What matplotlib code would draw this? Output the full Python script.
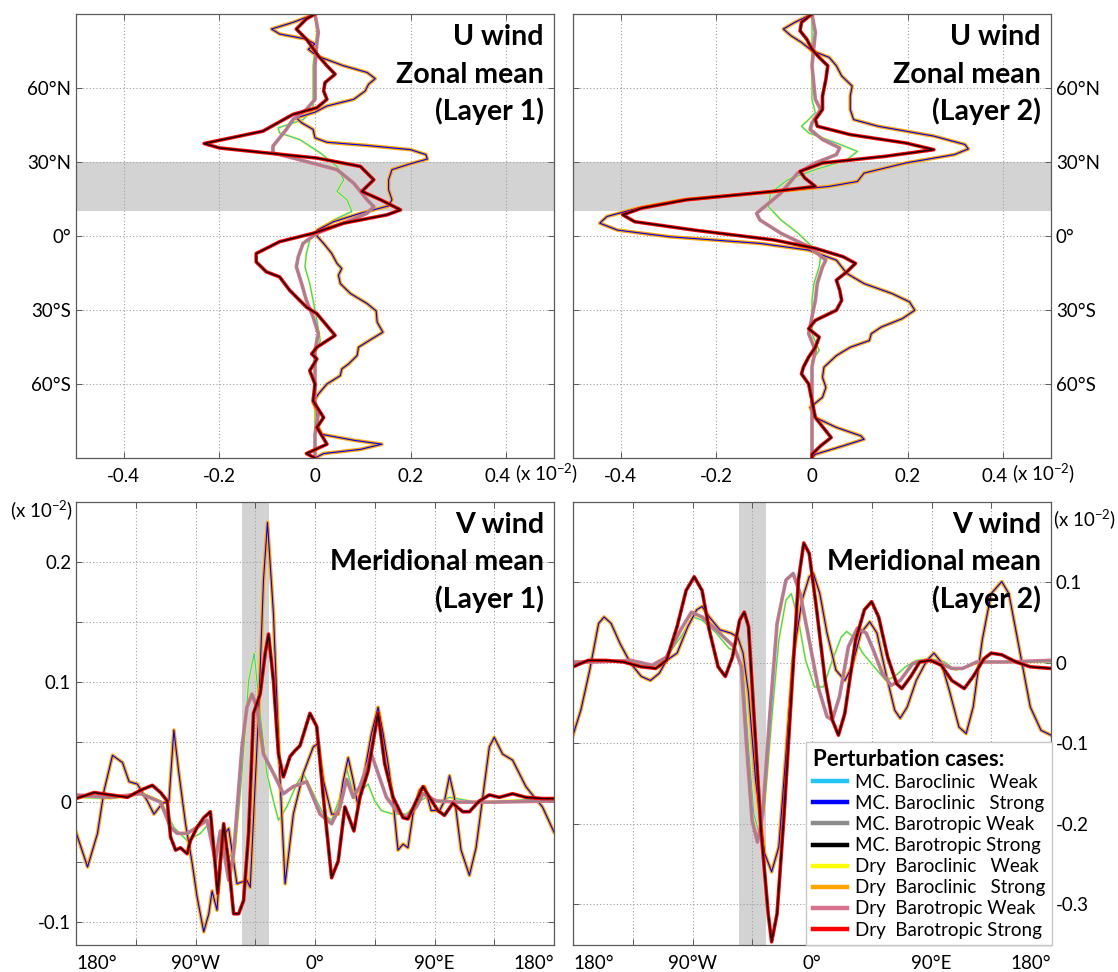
import numpy as np
import matplotlib.pyplot as plt
import matplotlib.transforms as mtransforms

plt.rcParams['font.family'] = ['Lato', 'DejaVu Sans']
plt.rcParams['mathtext.fontset'] = 'custom'
plt.rcParams['mathtext.rm'] = 'Lato'

# ---------------- data (units of 1e-2) ----------------
# Upper panels: (latitude, zonal-mean U perturbation)
u1_bc_strong = [(90, 0), (86.6, -0.046), (83.9, -0.091), (81.9, -0.074), (79.8, -0.018), (77.8, 0.0),
                (75.7, -0.014), (73.0, 0.004), (69.0, 0.060), (66.3, 0.109), (63.8, 0.126), (61.5, 0.112),
                (58.8, 0.105), (55.4, 0.081), (52.7, 0.025), (50.2, 0), (47.9, -0.039), (45.9, -0.028),
                (43.2, -0.004), (39.8, 0), (38.0, 0.025), (36.7, 0.109), (35.0, 0.200), (33.0, 0.232),
                (31.2, 0.235), (29.3, 0.200), (26.9, 0.161), (22.8, 0.154), (18.7, 0.154), (14.7, 0.161),
                (12.2, 0.154), (9.2, 0.095), (5.8, 0.039), (2.4, 0.005), (0, 0.004), (-3.0, 0.018),
                (-7.1, 0.035), (-11.1, 0.046), (-13.2, 0.056), (-15.9, 0.049), (-19.3, 0.053), (-23.3, 0.074),
                (-27.4, 0.109), (-30.4, 0.128), (-34.9, 0.130), (-39.0, 0.142), (-41.7, 0.119), (-45.1, 0.091),
                (-48.5, 0.088), (-51.9, 0.070), (-53.9, 0.056), (-56.6, 0.053), (-60.0, 0.025), (-64.1, 0.007),
                (-67.5, -0.004), (-70.9, 0.004), (-76.3, 0.004), (-80.4, 0.014), (-82.8, 0.081), (-84.4, 0.140),
                (-86.5, 0.095), (-88.2, 0.018), (-90, 0)]
u1_bt_strong = [(90, 0), (88.0, -0.018), (83.9, -0.039), (79.8, -0.018), (73.0, 0.007), (69.0, 0.025),
                (65.6, 0.042), (62.2, 0.021), (58.8, 0.018), (55.4, 0.025), (52.0, 0.004), (49.3, -0.046),
                (42.5, -0.109), (40.5, -0.158), (37.5, -0.232), (35.7, -0.200), (33.7, -0.102), (31.6, 0.004),
                (28.2, 0.095), (22.8, 0.123), (18.1, 0.098), (14.7, 0.137), (10.6, 0.179), (8.6, 0.151),
                (5.2, 0.060), (1.1, -0.004), (-2.3, -0.074), (-7.1, -0.123), (-10.5, -0.123), (-14.5, -0.102),
                (-16.6, -0.074), (-22.0, -0.053), (-28.8, -0.018), (-31.5, 0.004), (-40.3, 0.042),
                (-45.1, 0.004), (-47.8, -0.007), (-49.8, 0.004), (-54.6, -0.011), (-60, 0), (-66.8, -0.004),
                (-73.6, 0.018), (-77.6, 0.004), (-84.4, 0.025), (-88.2, -0.018), (-90, 0)]
u1_bc_weak = [(90, 0), (82.5, 0.004), (69, -0.004), (51.3, -0.004), (47.2, -0.025), (43.8, -0.077),
              (41.8, -0.074), (39.1, -0.032), (33.7, 0.011), (28.2, 0.046), (22.8, 0.060), (18.1, 0.046),
              (14.7, 0.067), (9.9, 0.077), (6.5, 0.039), (2.4, 0.004), (-1.6, -0.011), (-7.1, -0.018),
              (-12.5, -0.021), (-19.3, -0.011), (-26.1, -0.004), (-34.2, 0.004), (-42.4, 0.011),
              (-47.8, 0), (-60, 0), (-90, 0)]
u1_bt_weak = [(90, 0), (82.5, 0.007), (78.5, 0.004), (69, 0), (55.4, 0), (51.3, -0.018), (47.2, -0.046),
              (43.2, -0.060), (36.4, -0.088), (33.7, -0.088), (30.9, -0.032), (26.9, 0.046), (21.4, 0.081),
              (14.7, 0.109), (11.9, 0.123), (9.2, 0.109), (5.8, 0.067), (1.1, 0.004), (-3.0, -0.025),
              (-8.4, -0.035), (-12.5, -0.039), (-19.3, -0.028), (-26.1, -0.018), (-32.8, -0.004),
              (-39.6, 0.007), (-46.4, 0), (-67.5, 0), (-72.2, 0.007), (-80.4, 0), (-90, 0)]

u2_bc_strong = [(90, 0), (86.6, -0.036), (83.9, -0.060), (81.2, -0.044), (78.5, -0.022), (75.1, 0),
                (72.4, 0.036), (69.0, 0.051), (64.9, 0.062), (60.8, 0.084), (56.7, 0.080), (51.3, 0.080),
                (47.2, 0.087), (44.5, 0.138), (40.5, 0.255), (37.1, 0.320), (35.3, 0.327), (33.0, 0.298),
                (29.6, 0.196), (25.5, 0.109), (22.1, 0.095), (20.1, 0.036), (18.1, -0.073), (14.7, -0.269),
                (11.3, -0.364), (7.9, -0.429), (5.2, -0.444), (2.4, -0.407), (-0.3, -0.298), (-3.0, -0.109),
                (-5.7, -0.007), (-9.8, 0.051), (-15.2, 0.073), (-19.3, 0.109), (-23.3, 0.167), (-26.7, 0.204),
                (-30.1, 0.215), (-33.5, 0.189), (-36.9, 0.145), (-39.6, 0.124), (-42.4, 0.120), (-45.1, 0.080),
                (-48.5, 0.051), (-53.2, 0.025), (-57.3, 0.022), (-61.4, 0.029), (-65.4, 0.022), (-69.5, -0.004),
                (-73.6, 0.007), (-77.6, 0.051), (-81.0, 0.102), (-82.4, 0.109), (-85.1, 0.065), (-88.5, 0.007),
                (-90, 0)]
u2_bt_strong = [(90, 0), (86.6, -0.022), (83.2, -0.025), (79.8, -0.011), (75.7, 0), (72.4, 0.015),
                (69.0, 0.033), (63.5, 0.029), (56.7, 0.022), (51.3, 0.022), (47.2, 0.007), (44.5, 0.011),
                (41.1, 0.080), (37.7, 0.196), (35.0, 0.255), (32.3, 0.153), (29.6, 0.022), (26.2, -0.025),
                (23.5, -0.015), (20.1, 0.007), (18.1, -0.080), (14.7, -0.262), (11.3, -0.356), (8.6, -0.396),
                (5.8, -0.371), (2.4, -0.247), (-1.6, -0.080), (-5.0, 0.007), (-8.4, 0.065), (-11.1, 0.091),
                (-14.5, 0.073), (-17.9, 0.051), (-22.0, 0.058), (-26.1, 0.062), (-30.1, 0.051), (-34.2, 0.007),
                (-37.6, -0.007), (-41.0, 0.015), (-45.1, 0.007), (-49.1, -0.007), (-53.2, -0.018),
                (-55.9, -0.022), (-60.0, -0.007), (-66.8, 0), (-73.6, 0.007), (-79.0, 0.029), (-81.7, 0.040),
                (-85.1, 0.018), (-88.5, 0), (-90, 0)]
u2_bc_weak = [(90, 0), (69, 0), (55.4, 0), (50, 0.007), (47.2, -0.007), (44.5, -0.022), (41.8, -0.007),
              (37.7, 0.051), (34.3, 0.095), (30.9, 0.073), (26.9, 0.007), (22.8, -0.051), (17.4, -0.087),
              (11.9, -0.091), (6.5, -0.065), (1.1, -0.029), (-4.3, 0), (-8.4, 0.018), (-12.5, 0.015),
              (-19.3, 0.004), (-26.1, 0), (-39.6, 0), (-46.4, 0.015), (-50.5, 0), (-90, 0)]
u2_bt_weak = [(90, 0), (82.5, 0.007), (69, 0), (55.4, 0.007), (51.3, 0.018), (45.9, 0), (43.2, -0.004),
              (39.1, 0.022), (35.7, 0.058), (33.0, 0.051), (29.6, 0.007), (25.5, -0.030), (17.4, -0.065),
              (9.2, -0.116), (6.5, -0.109), (1.1, -0.065), (-4.3, -0.007), (-9.8, 0.029), (-12.5, 0.022),
              (-19.3, 0.011), (-26.1, 0.007), (-32.8, 0), (-39.6, -0.007), (-46.4, 0.007), (-53, 0), (-90, 0)]

# Lower panels: (longitude, meridional-mean V perturbation)
v1_bc_strong = [(-180, -0.025), (-171.3, -0.054), (-163.8, -0.026), (-158.8, 0.010), (-152.5, 0.039),
                (-145, 0.033), (-140, 0.017), (-133.8, 0.015), (-126.3, 0.001), (-121.3, -0.010), (-115, -0.001),
                (-110, 0.001), (-106.3, 0.060), (-102.5, 0.024), (-97.5, -0.018), (-92.5, -0.051),
                (-88.8, -0.079), (-83.8, -0.108), (-80, -0.093), (-77.5, -0.074), (-73.8, -0.090), (-70, -0.029),
                (-65, -0.022), (-58.8, -0.068), (-51.3, -0.065), (-48.8, -0.071), (-42.5, 0.074), (-38.8, 0.185),
                (-35.8, 0.233), (-31.3, 0.157), (-26.3, 0.018), (-22.5, -0.068), (-16.3, -0.010), (-8.8, 0.024),
                (-1.3, 0.046), (2.5, 0.049), (6.3, 0.018), (12.5, -0.010), (17.5, -0.010), (21.3, 0.018),
                (25, 0.037), (28.8, 0.018), (32.5, -0.004), (37.5, 0.026), (42.5, 0.057), (47.5, 0.079),
                (51.3, 0.057), (55, 0.032), (58.8, 0.001), (62.5, -0.040), (66.3, -0.035), (70, -0.038),
                (73.8, -0.010), (78.8, 0.010), (82.5, 0.013), (87.5, -0.007), (93.8, -0.007), (97.5, 0.001),
                (101.3, 0.022), (105, 0.004), (110, -0.040), (116.3, -0.061), (121.3, -0.038), (126.3, 0.004),
                (131.3, 0.046), (135, 0.054), (141.3, 0.040), (148.8, 0.035), (153.8, 0.024), (158.8, 0.013),
                (163.8, 0.006), (171.3, -0.004), (180, -0.025)]
v1_bt_strong = [(-180, 0.003), (-166.3, 0.008), (-153.8, 0.006), (-141.3, 0.004), (-131.3, 0.010),
                (-122.5, 0.014), (-116.3, 0.008), (-111.3, 0.001), (-108.8, -0.029), (-105, -0.040),
                (-101.3, -0.038), (-96.3, -0.043), (-93.8, -0.032), (-88.8, -0.021), (-83.8, -0.013),
                (-78.8, -0.008), (-76.3, -0.038), (-73.3, -0.076), (-68.8, -0.018), (-65, -0.051),
                (-61.3, -0.093), (-57.5, -0.093), (-53.8, -0.082), (-50, -0.026), (-46.3, 0.074), (-41.3, 0.090),
                (-37.5, 0.124), (-35, 0.140), (-31.3, 0.101), (-27.5, 0.040), (-23.8, 0.021), (-18.8, 0.038),
                (-15, 0.043), (-11.3, 0.047), (-3.8, 0.074), (1.3, 0.063), (6.3, 0.004), (12.5, -0.063),
                (17.5, -0.049), (22.5, -0.004), (26.3, -0.015), (29.3, -0.024), (33.8, 0.004), (40, 0.026),
                (47.5, 0.074), (52.5, 0.032), (58.8, 0.004), (66.3, -0.013), (70, -0.014), (76.3, 0.001),
                (81.3, 0.013), (86.3, 0.004), (92.5, -0.007), (97.5, -0.011), (103.8, -0.001), (111.3, -0.008),
                (116.3, -0.008), (123.8, 0.001), (131.3, 0.006), (138.8, 0.004), (148.8, 0.007), (158.8, 0.004),
                (171.3, 0.003), (180, 0.003)]
v1_bc_weak = [(-180, 0.004), (-153.8, 0.003), (-128.8, 0.007), (-116.3, 0.001), (-106.3, -0.021),
              (-96.3, -0.032), (-86.3, -0.026), (-80, -0.018), (-75, -0.043), (-71.3, -0.026), (-66.3, -0.049),
              (-60, -0.038), (-55, 0.024), (-50, 0.101), (-45.8, 0.124), (-41.3, 0.074), (-36.3, 0.024),
              (-31.3, 0.001), (-27.5, -0.015), (-21.3, -0.004), (-13.8, 0.015), (-8.8, 0.024), (-1.3, 0.007),
              (6.3, -0.010), (12.5, -0.015), (18.8, 0.004), (23.8, 0.028), (28.8, 0.007), (35, 0.010),
              (40, 0.015), (45, 0.001), (50, -0.007), (58.8, -0.010), (68.8, -0.010), (78.8, 0.001),
              (83.8, 0.004), (93.8, 0.0), (101.3, 0.004), (121.3, 0.0), (180, 0.003)]
v1_bt_weak = [(-180, 0.006), (-153.8, 0.004), (-131.3, 0.007), (-116.3, 0.0), (-108.8, -0.021),
              (-103.8, -0.026), (-96.3, -0.026), (-88.8, -0.021), (-81.3, -0.015), (-75, -0.049),
              (-71.3, -0.024), (-65, -0.065), (-61.3, -0.043), (-55, 0.046), (-51.3, 0.079), (-47.5, 0.090),
              (-43.8, 0.079), (-38.8, 0.040), (-31.3, 0.024), (-23.8, 0.007), (-16.3, 0.013), (-6.3, 0.017),
              (3.8, -0.010), (12.5, -0.018), (18.8, -0.004), (23.8, 0.019), (28.8, 0.004), (33.8, 0.013),
              (42.5, 0.040), (47.5, 0.024), (53.8, 0.004), (61.3, -0.007), (68.8, -0.013), (76.3, -0.004),
              (81.3, 0.007), (91.3, 0.001), (108.8, 0.0), (135, 0.0), (180, 0.001)]

v2_bc_strong = [(-180, -0.090), (-174.1, -0.059), (-167.4, -0.009), (-160.7, 0.049), (-156.6, 0.057),
                (-151.3, 0.049), (-144.6, 0.024), (-136.5, -0.001), (-128.5, -0.017), (-121.7, -0.022),
                (-115, -0.013), (-109.6, 0.003), (-101.6, 0.012), (-93.5, 0.045), (-86.8, 0.066), (-82.8, 0.070),
                (-77.4, 0.057), (-69.4, 0.041), (-61.3, 0.037), (-55.9, 0.032), (-51.9, 0.012), (-47.8, -0.038),
                (-42.5, -0.146), (-35.7, -0.237), (-30.4, -0.260), (-25, -0.229), (-19.6, -0.113), (-14.2, 0.007),
                (-7.5, 0.078), (-2.1, 0.107), (1.1, 0.111), (5.9, 0.086), (11.3, 0.037), (18, -0.009),
                (24.7, -0.022), (30.1, -0.005), (36.8, 0.037), (43.5, 0.051), (48.9, 0.037), (55.6, -0.013),
                (62.3, -0.059), (66.4, -0.069), (71.7, -0.055), (78.5, -0.022), (86.5, 0.003), (91.9, 0.012),
                (97.3, 0.001), (104, -0.038), (110.7, -0.080), (116.1, -0.088), (121.4, -0.055), (128.2, 0.028),
                (134.9, 0.086), (142.9, 0.101), (148.3, 0.086), (156.3, 0.016), (164.4, -0.055), (172.5, -0.084),
                (180, -0.090)]
v2_bt_strong = [(-180, -0.005), (-168.7, 0.003), (-155.3, 0.003), (-141.9, 0.001), (-128.5, -0.005),
                (-117.7, -0.007), (-109.6, 0.003), (-101.6, 0.045), (-94.8, 0.090), (-88.7, 0.107),
                (-82.8, 0.090), (-77.4, 0.041), (-70.7, -0.005), (-65.3, -0.017), (-59.9, 0.007), (-54.5, 0.053),
                (-51, 0.063), (-47.8, 0.045), (-43.8, -0.063), (-38.4, -0.208), (-33, -0.312), (-30.4, -0.347),
                (-26.3, -0.312), (-21, -0.188), (-15.6, -0.042), (-10.2, 0.103), (-6.2, 0.149), (-2.1, 0.136),
                (3.2, 0.070), (9.9, -0.022), (15.3, -0.071), (19.9, -0.090), (24.7, -0.063), (32.8, 0.028),
                (39.5, 0.066), (44.9, 0.076), (50.2, 0.057), (57, 0.007), (63.7, -0.026), (67.7, -0.032),
                (74.4, -0.017), (81.1, 0.001), (89.2, 0.003), (97.3, -0.003), (105.3, -0.022), (114.7, -0.032),
                (121.4, -0.017), (129.5, 0.005), (134.9, 0.012), (142.9, 0.010), (153.7, 0.001), (164.4, -0.005),
                (180, -0.007)]
v2_bc_weak = [(-180, 0.001), (-163.4, 0.003), (-144.6, 0.003), (-128.5, -0.003), (-117.7, -0.003),
              (-109.6, 0.007), (-98.9, 0.032), (-89.5, 0.057), (-82.8, 0.053), (-72, 0.037), (-62.6, 0.018),
              (-57.2, 0.014), (-51.9, -0.009), (-47.8, -0.105), (-43.8, -0.188), (-39.8, -0.212), (-35.7, -0.179),
              (-30.4, -0.071), (-25, 0.028), (-19.6, 0.078), (-15.6, 0.086), (-10.2, 0.053), (-4.8, 0.003),
              (1.9, -0.030), (8.6, -0.030), (15.3, 0.003), (22, 0.032), (26.1, 0.039), (31.4, 0.032),
              (38.2, 0.012), (48.9, -0.009), (55.6, -0.022), (62.3, -0.017), (70.4, -0.005), (78.5, 0.003),
              (89.2, 0.005), (99.9, 0.001), (108, -0.009), (116.1, -0.005), (126.8, 0.001), (145.6, 0.001),
              (180, 0.001)]
v2_bt_weak = [(-180, 0.001), (-163.4, 0.001), (-136.5, 0.003), (-120.4, -0.003), (-109.6, 0.007),
              (-98.9, 0.041), (-90.8, 0.063), (-82.8, 0.057), (-72, 0.041), (-63.9, 0.028), (-58.6, 0.020),
              (-53.2, -0.005), (-49.2, -0.105), (-45.1, -0.196), (-41.1, -0.223), (-37.1, -0.188), (-31.7, -0.063),
              (-26.3, 0.049), (-19.6, 0.103), (-14.2, 0.111), (-8.9, 0.086), (-2.1, 0.028), (4.6, -0.030),
              (11.3, -0.067), (15.3, -0.071), (20.7, -0.042), (27.4, 0.020), (34.1, 0.043), (40.8, 0.037),
              (46.2, 0.016), (52.9, -0.013), (59.6, -0.028), (66.4, -0.022), (75.8, -0.001), (86.5, 0.003),
              (94.6, 0.001), (105.3, -0.007), (113.4, -0.007), (124.1, 0.001), (145.6, 0.001), (180, 0.003)]

lat_ticks = [-60, -30, 0, 30, 60]
lat_labels = ['60°S', '30°S', '0°', '30°N', '60°N']
u_ticks = [-0.4, -0.2, 0, 0.2, 0.4]
u_labels = ['-0.4', '-0.2', '0', '0.2', '0.4']
lon_ticks = [-180, -135, -90, -45, 0, 45, 90, 135, 180]
lon_labels = ['180°', '', '90°W', '', '0°', '', '90°E', '', '180°']

case_labels = ['MC. Baroclinic   Weak', 'MC. Baroclinic   Strong', 'MC. Barotropic Weak',
               'MC. Barotropic Strong', 'Dry  Baroclinic   Weak', 'Dry  Baroclinic   Strong',
               'Dry  Barotropic Weak', 'Dry  Barotropic Strong']
case_colors = ['#22C4F4', '#0000FF', '#8C8C8C', '#000000', '#FFFF00', '#FFA500', '#D8708E', '#FF0000']

# ---------------- figure ----------------
fig = plt.figure(figsize=(11.18, 9.72), dpi=100)
W, H = 1118, 972


def px_axes(l, t, r, b):
    return fig.add_axes([l / W, 1 - b / H, (r - l) / W, (b - t) / H])


def style(ax):
    for s in ax.spines.values():
        s.set_color('#5a5a5a')
        s.set_linewidth(0.9)
    ax.tick_params(direction='in', length=4, width=0.7, color='#5a5a5a', top=True, right=True,
                   labelsize=13.5)
    ax.tick_params(axis='x', pad=7.5)
    ax.tick_params(axis='y', pad=3.5)
    ax.grid(True, linestyle=(0, (1, 2)), color='#a0a0a0', linewidth=0.8)
    ax.set_axisbelow(True)


def draw_cases(ax, series, vertical):
    # order in each series: baroclinic weak, baroclinic strong, barotropic weak, barotropic strong
    dry_lw = [1.7, 2.6, 2.6, 2.6]
    mc_lw = [0.8, 0.8, 1.0, 1.1]
    arrs = [np.array(s) for s in series]
    for k in [0, 2, 1, 3]:
        a = arrs[k]
        x, y = (a[:, 1], a[:, 0]) if vertical else (a[:, 0], a[:, 1])
        ax.plot(x, y, color=case_colors[4 + k], lw=dry_lw[k], solid_joinstyle='round', zorder=2 + k * 0.1)
        ax.plot(x, y, color=case_colors[k], lw=mc_lw[k], solid_joinstyle='round', zorder=2.05 + k * 0.1,
                alpha=0.9 if k == 3 else 1)


def panel_title(ax, lines, hpx):
    # three bold lines, right aligned, baselines measured from the axes top in pixels
    for off, s in zip([31, 68.5, 106], lines):
        ax.text(0.979, 1 - off / hpx, s, transform=ax.transAxes, ha='right', va='baseline',
                fontsize=20.5, fontweight='bold')


def shift_label(lbl, dx_px):
    lbl.set_transform(lbl.get_transform() + mtransforms.ScaledTranslation(dx_px / 100, 0, fig.dpi_scale_trans))


def u_panel(rect, series, layer, right):
    ax = px_axes(*rect)
    style(ax)
    ax.axhspan(10, 30, color='#d3d3d3', lw=0, zorder=0.2)
    draw_cases(ax, series, True)
    ax.set_xlim(-0.5, 0.5)
    ax.set_ylim(-90, 90)
    ax.set_xticks(u_ticks)
    ax.set_xticklabels(u_labels)
    shift_label(ax.get_xticklabels()[-1], -9)
    ax.set_yticks(lat_ticks)
    ax.set_yticklabels(lat_labels)
    if right:
        ax.tick_params(labelleft=False, labelright=True)
    panel_title(ax, ['U wind', 'Zonal mean', '(Layer %d)' % layer], rect[3] - rect[1])
    return ax


def v_panel(rect, series, layer, right, ylim, yticks, ylabels):
    ax = px_axes(*rect)
    style(ax)
    ax.axvspan(-55, -35, color='#d3d3d3', lw=0, zorder=0.2)
    draw_cases(ax, series, False)
    ax.set_xlim(-180, 180)
    ax.set_ylim(*ylim)
    ax.set_xticks(lon_ticks)
    ax.set_xticklabels(lon_labels)
    tl = ax.get_xticklabels()
    tl[0].set_ha('left')
    tl[-1].set_ha('right')
    ax.set_yticks(yticks)
    ax.set_yticklabels(ylabels)
    if right:
        ax.tick_params(labelleft=False, labelright=True)
    panel_title(ax, ['V wind', 'Meridional mean', '(Layer %d)' % layer], rect[3] - rect[1])
    return ax


u_panel((76, 14, 554, 458), [u1_bc_weak, u1_bc_strong, u1_bt_weak, u1_bt_strong], 1, False)
u_panel((573, 14, 1051, 458), [u2_bc_weak, u2_bc_strong, u2_bt_weak, u2_bt_strong], 2, True)
v_panel((76, 502, 554, 945), [v1_bc_weak, v1_bc_strong, v1_bt_weak, v1_bt_strong], 1, False,
        (-0.119, 0.25), [-0.1, -0.05, 0, 0.05, 0.1, 0.15, 0.2], ['-0.1', '', '0', '', '0.1', '', '0.2'])
ax4 = v_panel((573, 502, 1051, 945), [v2_bc_weak, v2_bc_strong, v2_bt_weak, v2_bt_strong], 2, True,
              (-0.351, 0.2), [-0.3, -0.2, -0.1, 0, 0.1], ['-0.3', '-0.2', '-0.1', '0', '0.1'])

scale = '(x 10$^{\\mathregular{-2}}$)'
fig.text(515 / W, 1 - 481 / H, scale, fontsize=13.5, va='baseline', ha='left')
fig.text(1012 / W, 1 - 481 / H, scale, fontsize=13.5, va='baseline', ha='left')
fig.text(73 / W, 1 - 518 / H, scale, fontsize=13.5, va='baseline', ha='right')
fig.text(1053 / W, 1 - 527 / H, scale, fontsize=13.5, va='baseline', ha='left')

handles = [plt.Line2D([], [], color=c, lw=3.2) for c in case_colors]
leg = ax4.legend(handles, case_labels, title='Perturbation cases:', loc='upper left',
                 bbox_to_anchor=(806 / W, 1 - 742 / H), bbox_transform=fig.transFigure, borderaxespad=0,
                 fontsize=13.5, title_fontproperties={'weight': 'bold', 'size': 16}, alignment='left',
                 frameon=True, fancybox=False, edgecolor='#c8c8c8', framealpha=1, handlelength=1.85,
                 handletextpad=0.4, labelspacing=0.22, borderpad=0.35)
leg.get_frame().set_linewidth(1.0)
leg.set_zorder(10)

fig.savefig('out.png', dpi=100)
